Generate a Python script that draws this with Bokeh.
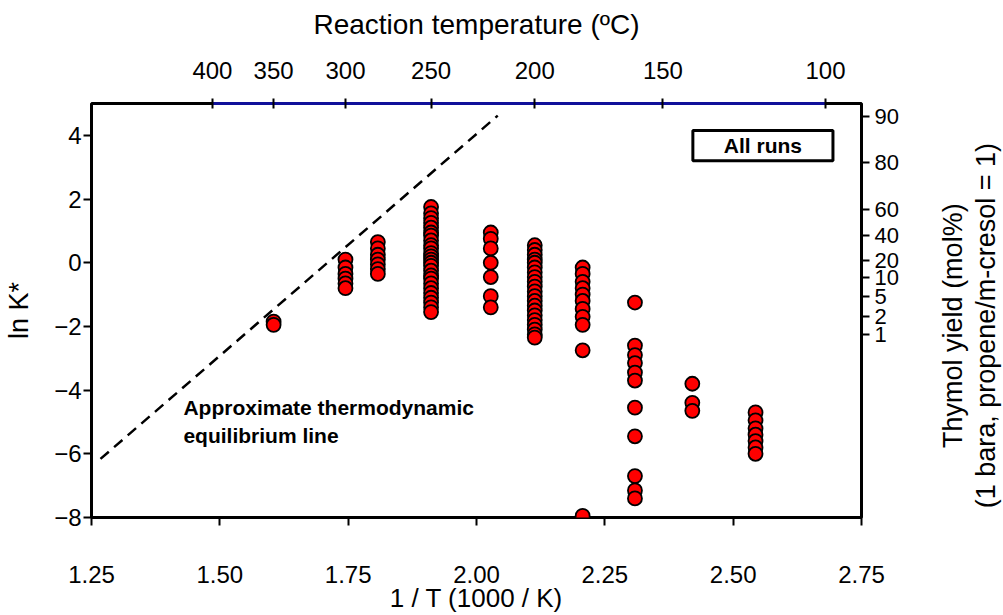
import math
from bokeh.plotting import figure
from bokeh.layouts import row
from bokeh.models import (LinearAxis, FixedTicker, ColumnDataSource, Label,
                          BoxAnnotation, Range1d)
from bokeh.embed import file_html
from bokeh.resources import INLINE

# ---- data ----
# reaction temperature of each run group (degC) and ln K* values
temps_c = [350, 300, 280, 250, 220, 200, 180, 160, 140, 120]
lnk_groups = [
    [-1.85, -1.95],
    [0.1, -0.15, -0.35, -0.5, -0.65, -0.8],
    [0.65, 0.45, 0.25, 0.1, -0.05, -0.2, -0.35],
    [1.75, 1.55, 1.4, 1.25, 1.1, 0.95, 0.85, 0.7, 0.55, 0.45, 0.3, 0.2, 0.1,
     0.0, -0.1, -0.25, -0.4, -0.5, -0.65, -0.8, -0.95, -1.1, -1.25, -1.4, -1.55],
    [0.95, 0.75, 0.45, 0.0, -0.45, -1.05, -1.4],
    [0.55, 0.4, 0.25, 0.1, 0.0, -0.15, -0.3, -0.45, -0.6, -0.75, -0.9, -1.05,
     -1.2, -1.35, -1.5, -1.65, -1.8, -1.95, -2.1, -2.25, -2.35],
    [-0.15, -0.35, -0.6, -0.8, -1.0, -1.2, -1.45, -1.7, -1.95, -2.75, -7.95],
    [-1.25, -2.6, -2.9, -3.15, -3.45, -3.7, -4.55, -5.45, -6.7, -7.15, -7.4],
    [-3.8, -4.4, -4.65],
    [-4.7, -4.95, -5.2, -5.4, -5.6, -5.8, -6.0],
]

# approximate equilibrium line (1/T, ln K*)
eq_x = [1.2675, 2.0414]
eq_y = [-6.16, 4.62]

# axes
bottom_ticks = [1.25, 1.50, 1.75, 2.00, 2.25, 2.50, 2.75]
top_temps = [400, 350, 300, 250, 200, 150, 100]
yield_labels = ["90", "80", "60", "40", "20", "10", "5", "2", "1"]
yield_lnk = [4.6, 3.15, 1.68, 0.85, 0.07, -0.47, -1.06, -1.69, -2.25]
right_titles = ["Thymol yield (mol%)", "(1 bara, propene/m-cresol = 1)"]

# ---- build ----
xs, ys = [], []
for t, grp in zip(temps_c, lnk_groups):
    for v in grp:
        xs.append(1000.0 / (t + 273.15))
        ys.append(v)
src = ColumnDataSource(dict(x=xs, y=ys))

FONT = "Liberation Sans"
MAIN_W = 935
p = figure(width=MAIN_W, height=615, x_range=Range1d(1.25, 2.75),
           y_range=Range1d(-8, 5), output_backend="svg", toolbar_location=None,
           min_border_left=91, min_border_right=MAIN_W - 861, min_border_top=103,
           min_border_bottom=96)
p.xgrid.visible = False
p.ygrid.visible = False
p.outline_line_color = "black"
p.outline_line_width = 3
p.background_fill_color = "white"
p.border_fill_color = "white"

def style(ax, tick_size="24px", title_size="27px"):
    ax.major_label_text_font = FONT
    ax.major_label_text_font_size = tick_size
    ax.major_label_text_color = "black"
    ax.axis_label_text_font = FONT
    ax.axis_label_text_font_size = title_size
    ax.axis_label_text_font_style = "normal"
    ax.axis_label_text_color = "black"
    ax.minor_tick_line_color = None
    ax.major_tick_line_color = "black"
    ax.major_tick_line_width = 2
    ax.axis_line_color = None

# bottom axis
xa = p.xaxis[0]
style(xa, title_size="26px")
xa.ticker = FixedTicker(ticks=bottom_ticks)
xa.major_label_overrides = {t: f"{t:.2f}" for t in bottom_ticks}
xa.major_tick_in = 0
xa.major_tick_out = 8
xa.major_label_standoff = 40
xa.axis_label = "1 / T (1000 / K)"
xa.axis_label_standoff = -3

# left axis
ya = p.yaxis[0]
style(ya)
ya.ticker = FixedTicker(ticks=[-8, -6, -4, -2, 0, 2, 4])
ya.major_tick_in = 0
ya.major_tick_out = 8
ya.major_label_standoff = 2
ya.axis_label = "ln K*"
ya.axis_label_standoff = 17

# top axis (temperature)
top_pos = [1000.0 / (t + 273.15) for t in top_temps]
ta = LinearAxis()
style(ta, title_size="28px")
ta.ticker = FixedTicker(ticks=top_pos)
ta.major_label_overrides = {pos: str(t) for pos, t in zip(top_pos, top_temps)}
ta.bounds = (min(top_pos), max(top_pos))
ta.axis_line_color = "#10109a"
ta.axis_line_width = 3
ta.major_tick_in = 5
ta.major_tick_out = 5
ta.major_label_standoff = 20
ta.axis_label = "Reaction temperature (ºC)"
ta.axis_label_standoff = 19
p.add_layout(ta, "above")

# right axis (yield)
ra = LinearAxis()
style(ra, tick_size="22px")
ra.ticker = FixedTicker(ticks=yield_lnk)
ra.major_label_overrides = {pos: lab for pos, lab in zip(yield_lnk, yield_labels)}
ra.major_tick_in = 0
ra.major_tick_out = 8
ra.major_label_standoff = 5
p.add_layout(ra, "right")

# equilibrium line
p.line(eq_x, eq_y, line_color="black", line_width=2.5, line_dash="11 7")

# points
p.scatter("x", "y", source=src, marker="circle", size=14, fill_color="red",
          line_color="black", line_width=1.8)

# annotation text
p.add_layout(Label(x=1.429, y=-4.2, text="Approximate thermodynamic\nequilibrium line",
                   text_font=FONT, text_font_size="21px", text_font_style="bold",
                   text_color="black",
                   text_align="left", text_baseline="top", text_line_height=1.2))

# "All runs" box
p.add_layout(BoxAnnotation(left=2.4215, right=2.6944, bottom=3.2, top=4.15,
                           fill_color="white", fill_alpha=1.0,
                           line_color="black", line_alpha=1.0, line_width=3))
p.add_layout(Label(x=2.558, y=3.67, text="All runs", text_font=FONT,
                   text_font_size="21px", text_font_style="bold",
                   text_color="black",
                   text_align="center", text_baseline="middle"))

# right-hand axis title (two lines, reading bottom to top) in a narrow panel
PW = 1003 - MAIN_W
p2 = figure(width=PW, height=615, x_range=Range1d(0, PW), y_range=Range1d(0, 615),
            output_backend="svg", toolbar_location=None, min_border=0)
p2.axis.visible = False
p2.xgrid.visible = False
p2.ygrid.visible = False
p2.outline_line_color = None
p2.background_fill_color = "white"
p2.border_fill_color = "white"
for txt, cx in zip(right_titles, [952 - MAIN_W, 985 - MAIN_W]):
    p2.add_layout(Label(x=cx, y=615 - 330, text=txt, angle=math.pi / 2,
                        text_font=FONT, text_font_size="27px", text_color="black",
                        text_align="center", text_baseline="middle"))

layout = row(p, p2, spacing=0)
open("out.html", "w").write(file_html(layout, INLINE))
